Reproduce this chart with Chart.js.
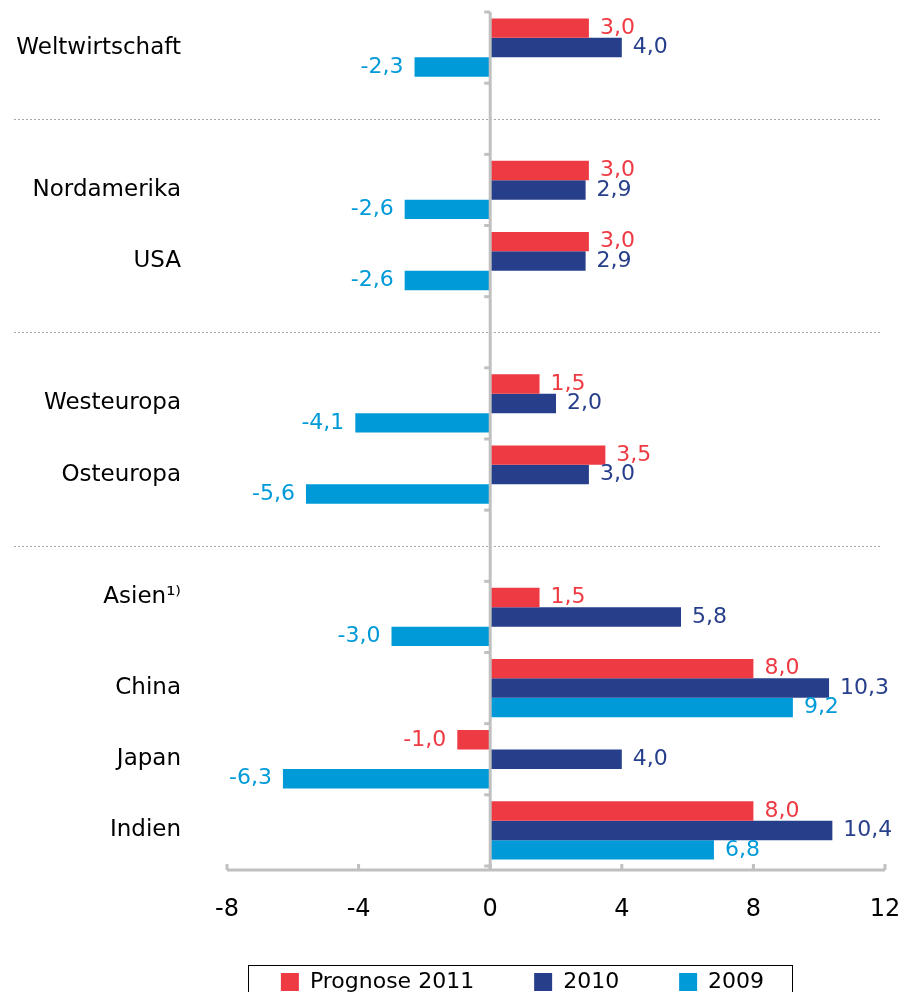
<!DOCTYPE html>
<html>
<head>
<meta charset="utf-8">
<script src="https://cdn.jsdelivr.net/npm/chart.js@4/dist/chart.umd.min.js"></script>
<style>
  html, body { margin: 0; padding: 0; background: #fff; overflow: hidden; }
  #wrap { width: 903px; height: 992px; overflow: hidden; position: relative; }
  #chart { display: block; }
</style>
</head>
<body>
<div id="wrap"><canvas id="chart" width="903" height="1017"></canvas></div>
<script>
// Data (empty categories are the gaps with the dotted separators)
const categories = ['Weltwirtschaft', '', 'Nordamerika', 'USA', '', 'Westeuropa', 'Osteuropa', '', 'Asien¹⁾', 'China', 'Japan', 'Indien'];
const prognose2011 = [3.0, null, 3.0, 3.0, null, 1.5, 3.5, null, 1.5, 8.0, -1.0, 8.0];
const values2010 = [4.0, null, 2.9, 2.9, null, 2.0, 3.0, null, 5.8, 10.3, 4.0, 10.4];
const values2009 = [-2.3, null, -2.6, -2.6, null, -4.1, -5.6, null, -3.0, 9.2, -6.3, 6.8];
const xTicks = [-8, -4, 0, 4, 8, 12];

const red = '#ee3a43';
const navy = '#273f8b';
const cyan = '#009ad8';
const axisGray = '#c0c0c0';

Chart.defaults.font.family = '"DejaVu Sans", Verdana, sans-serif';
Chart.defaults.color = '#000';

// Asien label sits a bit higher than its bars
const yLabels = categories.map(c => c.startsWith('Asien') ? [c, ''] : c);

const decorations = {
    id: 'decorations',
    afterLayout(chart) {
        // legend is centred under the plot, not the whole canvas, and sits a bit higher
        const lg = chart.legend;
        lg.left += 80;
        lg.right += 80;
        lg.top -= 14;
        lg.bottom -= 14;
    },
    beforeDatasetsDraw(chart) {
        const ctx = chart.ctx;
        const yScale = chart.scales.y;
        ctx.save();
        ctx.strokeStyle = '#a6a6a6';
        ctx.lineWidth = 1;
        ctx.setLineDash([2, 2]);
        categories.forEach((c, i) => {
            if (c !== '') return;
            const y = Math.round(yScale.getPixelForValue(i)) + 0.5;
            ctx.beginPath();
            ctx.moveTo(14, y);
            ctx.lineTo(880, y);
            ctx.stroke();
        });
        ctx.restore();
    },
    afterDatasetsDraw(chart) {
        const ctx = chart.ctx;
        const area = chart.chartArea;
        const xScale = chart.scales.x;
        const yScale = chart.scales.y;
        const x0 = xScale.getPixelForValue(0);
        const axisY = area.bottom + 4;

        ctx.save();
        ctx.strokeStyle = axisGray;
        ctx.lineWidth = 3;
        // zero line
        ctx.beginPath();
        ctx.moveTo(x0, area.top);
        ctx.lineTo(x0, axisY);
        ctx.stroke();
        // category boundary ticks on the zero line
        const step = yScale.getPixelForValue(1) - yScale.getPixelForValue(0);
        for (let i = 0; i <= categories.length; i++) {
            const y = yScale.getPixelForValue(0) - step / 2 + i * step;
            ctx.beginPath();
            ctx.moveTo(x0 - 6, y);
            ctx.lineTo(x0, y);
            ctx.stroke();
        }
        // value axis
        ctx.beginPath();
        ctx.moveTo(area.left, axisY);
        ctx.lineTo(area.right, axisY);
        ctx.stroke();
        xTicks.forEach(t => {
            const x = xScale.getPixelForValue(t);
            ctx.beginPath();
            ctx.moveTo(x, axisY - 6);
            ctx.lineTo(x, axisY);
            ctx.stroke();
        });

        // value labels
        ctx.font = '22px "DejaVu Sans", Verdana, sans-serif';
        ctx.textBaseline = 'middle';
        chart.data.datasets.forEach((ds, di) => {
            const meta = chart.getDatasetMeta(di);
            meta.data.forEach((bar, i) => {
                const v = ds.data[i];
                if (v === null) return;
                ctx.fillStyle = ds.backgroundColor;
                const txt = v.toFixed(1).replace('.', ',');
                if (v >= 0) {
                    ctx.textAlign = 'left';
                    ctx.fillText(txt, bar.x + 11, bar.y);
                } else {
                    ctx.textAlign = 'right';
                    ctx.fillText(txt, bar.x - 11, bar.y);
                }
            });
        });
        ctx.restore();
    },
    afterDraw(chart) {
        const lg = chart.legend;
        if (!lg || !lg.lineWidths) return;
        const pad = lg.options.labels.padding;
        const lw = lg.lineWidths[0];
        const start = (lg.left + pad + lg.right - lw) / 2;
        const end = start + lw - pad;
        const ctx = chart.ctx;
        const top = lg.top + pad - 6;
        ctx.save();
        ctx.strokeStyle = '#000';
        ctx.lineWidth = 1;
        ctx.strokeRect(Math.round(start - 33) + 0.5, Math.round(top) + 0.5, Math.round(end - start + 61), 80);
        ctx.restore();
    }
};

const ctx = document.getElementById('chart').getContext('2d');
const growthChart = new Chart(ctx, {
    type: 'bar',
    data: {
        labels: yLabels,
        datasets: [
            { label: 'Prognose 2011', data: prognose2011, backgroundColor: red },
            { label: '2010', data: values2010, backgroundColor: navy },
            { label: '2009', data: values2009, backgroundColor: cyan }
        ]
    },
    options: {
        indexAxis: 'y',
        responsive: false,
        animation: false,
        categoryPercentage: 0.82,
        barPercentage: 1.0,
        layout: { padding: { top: 12, right: 18, left: 0, bottom: 0 } },
        scales: {
            x: {
                min: -8,
                max: 12,
                afterBuildTicks(scale) {
                    scale.ticks = xTicks.map(v => ({ value: v }));
                },
                afterFit(scale) {
                    scale.height = 59;
                    scale.paddingLeft = 0;
                    scale.paddingRight = 0;
                },
                grid: { display: false, drawTicks: false },
                border: { display: false },
                ticks: { padding: 29, font: { size: 24 }, color: '#000' }
            },
            y: {
                afterFit(scale) {
                    scale.width = 227;
                    scale.paddingTop = 0;
                    scale.paddingBottom = 0;
                },
                grid: { display: false, drawTicks: false },
                border: { display: false },
                ticks: { padding: 46, font: { size: 23, lineHeight: 1.7 }, color: '#000', autoSkip: false }
            }
        },
        plugins: {
            legend: {
                position: 'bottom',
                labels: {
                    boxWidth: 18,
                    boxHeight: 18,
                    padding: 60,
                    font: { size: 22 },
                    color: '#000'
                }
            },
            tooltip: { enabled: false }
        }
    },
    plugins: [decorations]
});
</script>
</body>
</html>
